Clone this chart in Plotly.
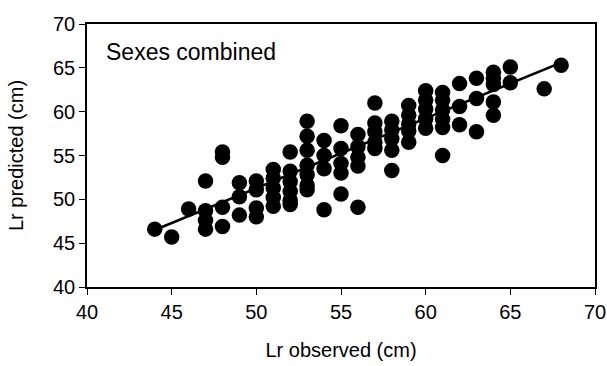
import plotly.graph_objects as go

# Observed (x) and predicted (y) lengths
obs = [44, 45, 46,
       47, 47, 47, 47,
       48, 48, 48, 48,
       49, 49, 49,
       50, 50, 50, 50,
       51, 51, 51, 51, 51,
       52, 52, 52, 52, 52, 52,
       53, 53, 53, 53, 53, 53, 53,
       54, 54, 54, 54,
       55, 55, 55, 55, 55,
       56, 56, 56, 56, 56,
       57, 57, 57, 57, 57,
       58, 58, 58, 58, 58,
       59, 59, 59, 59, 59,
       60, 60, 60, 60, 60,
       61, 61, 61, 61, 61, 61,
       62, 62, 62,
       63, 63, 63,
       64, 64, 64, 64, 64,
       65, 65,
       67, 68]
pred = [46.6, 45.7, 48.9,
        52.1, 48.7, 47.6, 46.6,
        55.4, 54.8, 49.1, 46.9,
        51.9, 50.3, 48.2,
        52.1, 51.1, 49.0, 48.0,
        53.4, 52.4, 51.3, 50.2, 49.2,
        55.4, 53.2, 52.0, 50.9, 49.9, 49.4,
        58.9, 57.2, 55.6, 53.9, 52.8, 51.6, 51.1,
        56.7, 55.0, 53.5, 48.8,
        58.4, 55.8, 54.1, 53.0, 50.6,
        57.4, 56.0, 54.8, 53.8, 49.1,
        61.0, 58.7, 57.7, 56.5, 55.8,
        58.9, 57.9, 56.9, 55.6, 53.3,
        60.7, 59.6, 58.6, 57.8, 56.5,
        62.4, 61.3, 60.3, 59.2, 58.1,
        62.2, 61.3, 60.2, 59.1, 58.2, 55.0,
        63.2, 60.6, 58.5,
        63.8, 61.5, 57.7,
        64.5, 63.8, 63.1, 61.1, 59.6,
        65.1, 63.3,
        62.6, 65.3]

# Fitted line end points
fit_x = [44, 68]
fit_y = [46.5, 65.6]

x_ticks = [40, 45, 50, 55, 60, 65, 70]
y_ticks = [40, 45, 50, 55, 60, 65, 70]

font = "Liberation Sans, Arial, sans-serif"

fig = go.Figure()
fig.add_trace(go.Scatter(x=obs, y=pred, mode="markers",
                         marker=dict(color="black", size=15.5, line=dict(width=0)),
                         showlegend=False, cliponaxis=False))
fig.add_trace(go.Scatter(x=fit_x, y=fit_y, mode="lines",
                         line=dict(color="black", width=2.5),
                         showlegend=False))

fig.add_annotation(x=0.033, y=0.895, xref="paper", yref="paper",
                   text="Sexes combined", showarrow=False,
                   xanchor="left", yanchor="middle",
                   font=dict(family=font, size=23, color="black"))

axis_common = dict(showgrid=False, zeroline=False, showline=True,
                   linecolor="black", linewidth=1.5, mirror=True,
                   ticks="outside", ticklen=6, tickwidth=1.2, tickcolor="black",
                   automargin=False,
                   tickfont=dict(family=font, size=20, color="black"))

fig.update_xaxes(range=[40, 70], tickvals=x_ticks,
                 title=dict(text="Lr observed (cm)", standoff=21,
                            font=dict(family=font, size=20, color="black")),
                 **axis_common)
fig.update_yaxes(range=[40, 70], tickvals=y_ticks,
                 title=dict(text="Lr predicted (cm)", standoff=24,
                            font=dict(family=font, size=20, color="black")),
                 **axis_common)

fig.update_layout(width=607, height=366,
                  margin=dict(l=87, r=12, t=24, b=79),
                  plot_bgcolor="white", paper_bgcolor="white")

fig.write_html("out.html")
